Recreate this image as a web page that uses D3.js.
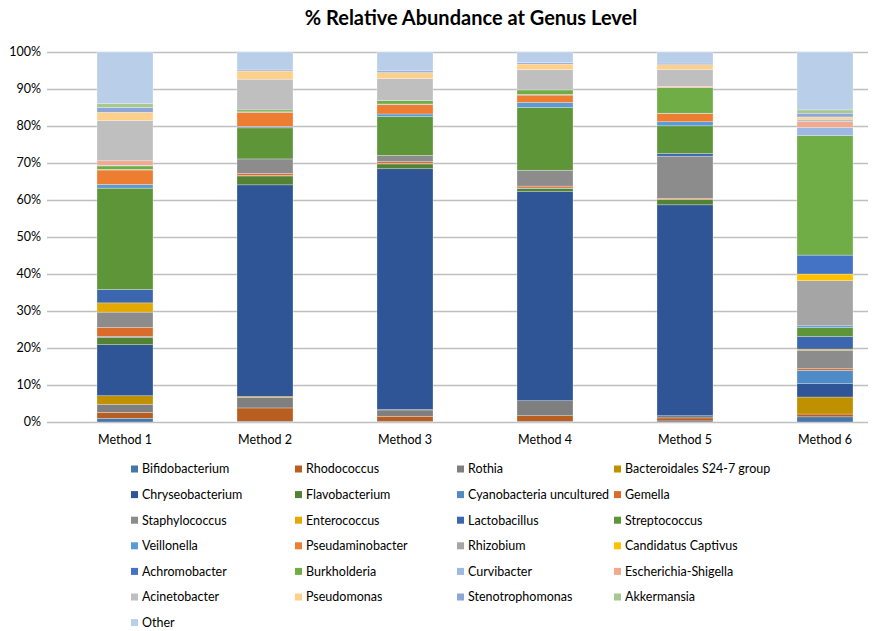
<!DOCTYPE html>
<html>
<head>
<meta charset="utf-8">
<script src="https://cdn.jsdelivr.net/npm/d3@7/dist/d3.min.js"></script>
<style>
  html, body { margin: 0; padding: 0; background: #fff; }
  svg { display: block; font-family: Lato, "Liberation Sans", sans-serif; }
</style>
</head>
<body>
<svg id="chart" width="883" height="631"></svg>
<script>
// Samples along the x axis
const methods = ["Method 1", "Method 2", "Method 3", "Method 4", "Method 5", "Method 6"];

// Genera, stacked bottom to top
const genera = [
  "Bifidobacterium", "Rhodococcus", "Rothia", "Bacteroidales S24-7 group",
  "Chryseobacterium", "Flavobacterium", "Cyanobacteria uncultured", "Gemella",
  "Staphylococcus", "Enterococcus", "Lactobacillus", "Streptococcus",
  "Veillonella", "Pseudaminobacter", "Rhizobium", "Candidatus Captivus",
  "Achromobacter", "Burkholderia", "Curvibacter", "Escherichia-Shigella",
  "Acinetobacter", "Pseudomonas", "Stenotrophomonas", "Akkermansia", "Other"
];

const generaColors = [
  "#4677aa", "#b95e21", "#7f7f7f", "#bf9000",
  "#2f5597", "#548235", "#4f8bc6", "#d96c2a",
  "#8c8c8c", "#e3a900", "#3c66b0", "#5f9539",
  "#5b9bd5", "#ed7d31", "#a5a5a5", "#ffc000",
  "#4472c4", "#70ad47", "#9db9e3", "#f2a98e",
  "#bfbfbf", "#ffd08a", "#8ea5da", "#a5c890", "#b9cfe9"
];

// Relative abundance (%) per method, in genus order
const method1 = [1.0, 1.6, 2.2, 2.3, 13.8, 2.0, 0.2, 2.5, 4.1, 2.5, 3.6, 27.4, 1.0, 3.9, 0.2, 0.0, 0.0, 0.9, 0.2, 1.2, 10.9, 2.2, 1.3, 1.1, 13.9];
const method2 = [0.2, 3.6, 2.8, 0.3, 57.2, 2.4, 0.1, 0.6, 3.9, 0.0, 0.0, 8.4, 0.35, 3.8, 0.2, 0.0, 0.0, 0.5, 0.0, 0.0, 8.3, 2.2, 0.3, 0.0, 4.85];
const method3 = [0.2, 1.35, 1.7, 0.1, 65.1, 1.3, 0.1, 0.5, 1.7, 0.0, 0.0, 10.5, 0.7, 2.5, 0.2, 0.0, 0.0, 0.9, 0.0, 0.0, 6.0, 1.6, 0.45, 0.0, 5.1];
const method4 = [0.2, 1.5, 4.05, 0.0, 56.5, 0.9, 0.1, 0.5, 4.3, 0.0, 0.0, 17.0, 1.3, 2.0, 0.2, 0.0, 0.0, 1.2, 0.0, 0.0, 5.5, 1.5, 0.35, 0.0, 2.9];
const method5 = [0.3, 0.8, 0.6, 0.0, 57.0, 1.45, 0.0, 0.3, 11.4, 0.0, 0.7, 7.5, 1.1, 2.2, 0.1, 0.0, 0.0, 6.9, 0.0, 0.35, 4.6, 1.3, 0.4, 0.0, 3.0];
const method6 = [1.4, 0.75, 0.0, 4.6, 3.6, 0.0, 3.6, 0.45, 5.0, 0.3, 3.4, 2.4, 0.5, 0.0, 12.2, 1.8, 5.1, 32.3, 2.25, 1.5, 0.7, 0.6, 1.0, 0.9, 15.65];

const yTicks = [0, 10, 20, 30, 40, 50, 60, 70, 80, 90, 100];

const methodValues = [method1, method2, method3, method4, method5, method6];

// Build one row per method for d3.stack
const table = methods.map((m, i) => {
  const row = { method: m };
  genera.forEach((g, j) => { row[g] = methodValues[i][j]; });
  return row;
});

const svg = d3.select("#chart");

const plot = { left: 47, right: 868, top: 52, bottom: 422 };

const x = d3.scaleBand()
  .domain(methods)
  .range([55, 895])
  .paddingInner(0.6)
  .paddingOuter(0.3);

const y = d3.scaleLinear().domain([0, 100]).range([plot.bottom, plot.top]);

const color = d3.scaleOrdinal().domain(genera).range(generaColors);

// Title
svg.append("text")
  .attr("x", 471).attr("y", 25)
  .attr("text-anchor", "middle")
  .attr("font-size", 20).attr("font-weight", "bold")
  .attr("fill", "#000")
  .text("% Relative Abundance at Genus Level");

// Horizontal gridlines running across the plot
const yGrid = d3.axisLeft(y)
  .tickValues(yTicks)
  .tickSize(plot.right - plot.left)
  .tickFormat("");

const yG = svg.append("g")
  .attr("transform", `translate(${plot.right},0)`)
  .call(yGrid);
yG.select(".domain").remove();
yG.selectAll(".tick line").attr("stroke", "#bfbfbf").attr("stroke-width", 1.3);

// Percent labels
svg.append("g")
  .selectAll("text")
  .data(yTicks)
  .join("text")
  .attr("x", 41)
  .attr("y", d => y(d))
  .attr("dy", "0.35em")
  .attr("text-anchor", "end")
  .attr("font-size", 12.5)
  .attr("fill", "#000")
  .text(d => d + "%");

// Stacked bars
const series = d3.stack().keys(genera)(table);

svg.append("g")
  .selectAll("g")
  .data(series)
  .join("g")
  .attr("fill", d => color(d.key))
  .selectAll("rect")
  .data(d => d)
  .join("rect")
  .attr("x", d => x(d.data.method))
  .attr("width", x.bandwidth())
  .attr("y", d => y(d[1]))
  .attr("height", d => Math.max(0, y(d[0]) - y(d[1])))
  .attr("stroke", "#ffffff")
  .attr("stroke-opacity", 0.45)
  .attr("stroke-width", 0.6);

// Category labels
const xAxis = d3.axisBottom(x).tickSize(0).tickPadding(13);
const xG = svg.append("g")
  .attr("transform", `translate(0,${plot.bottom})`)
  .call(xAxis);
xG.select(".domain").remove();
xG.selectAll(".tick text")
  .attr("font-size", 12.5)
  .attr("font-family", "Lato, 'Liberation Sans', sans-serif")
  .attr("fill", "#000");

// Legend: four columns, filled row by row
const legendCols = [131, 295, 457, 614];
const legendTop = 469;
const legendRow = 25.6;

const legend = svg.append("g")
  .selectAll("g")
  .data(genera)
  .join("g")
  .attr("transform", (d, i) =>
    `translate(${legendCols[i % 4]},${legendTop + Math.floor(i / 4) * legendRow})`);

legend.append("rect")
  .attr("x", 0).attr("y", -3.5)
  .attr("width", 7).attr("height", 7)
  .attr("fill", d => color(d));

legend.append("text")
  .attr("x", 11).attr("y", 0)
  .attr("dy", "0.35em")
  .attr("font-size", 12.5)
  .attr("fill", "#000")
  .text(d => d);
</script>
</body>
</html>
